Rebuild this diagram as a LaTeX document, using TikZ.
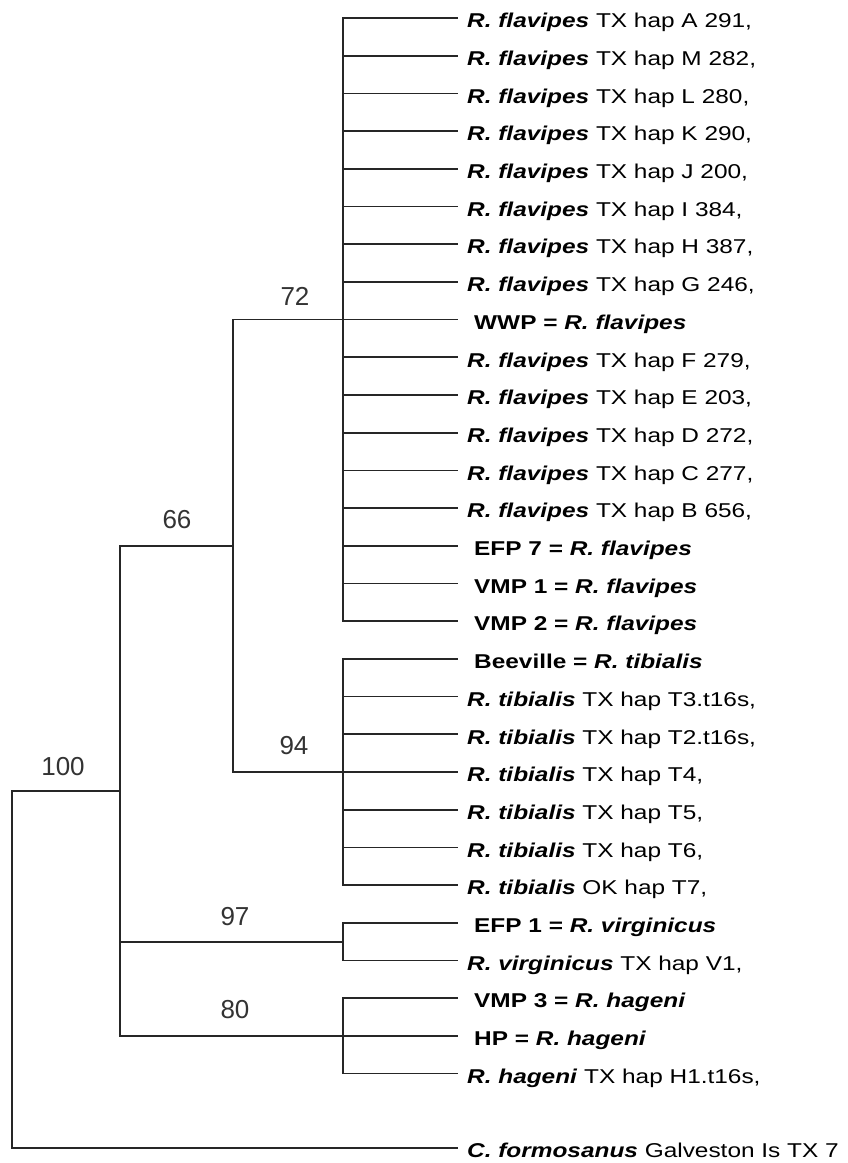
\documentclass[tikz,border=0pt]{standalone}
\usepackage{fontspec}
\setmainfont{Liberation Sans}[FakeStretch=1.22]
\newfontfamily\numfont{Liberation Sans}
\newcommand{\sps}[1]{\textbf{\textit{#1}}}
\begin{document}
\begin{tikzpicture}[x=1pt,y=-1pt,
  br/.style={line width=1.7pt, draw=black!85, line cap=rect},
  lab/.style={anchor=base west, inner sep=0pt, font=\fontsize{20}{24}\selectfont, text=black},
  num/.style={anchor=center, inner sep=0pt, font=\numfont\fontsize{26}{30}\selectfont, text=black!80}]
\useasboundingbox[fill=white] (0,0) rectangle (847,1163);
% leaves
\foreach \i/\y/\xx/\t in {
 0/18/467/{\sps{R. flavipes} TX hap A 291,},
 1/55.7/467/{\sps{R. flavipes} TX hap M 282,},
 2/93.4/467/{\sps{R. flavipes} TX hap L 280,},
 3/131.1/467/{\sps{R. flavipes} TX hap K 290,},
 4/168.8/467/{\sps{R. flavipes} TX hap J 200,},
 5/206.5/467/{\sps{R. flavipes} TX hap I 384,},
 6/244.2/467/{\sps{R. flavipes} TX hap H 387,},
 7/281.9/467/{\sps{R. flavipes} TX hap G 246,},
 8/319.6/474/{\textbf{WWP = \textit{R. flavipes}}},
 9/357.3/467/{\sps{R. flavipes} TX hap F 279,},
 10/395/467/{\sps{R. flavipes} TX hap E 203,},
 11/432.7/467/{\sps{R. flavipes} TX hap D 272,},
 12/470.4/467/{\sps{R. flavipes} TX hap C 277,},
 13/508.1/467/{\sps{R. flavipes} TX hap B 656,},
 14/545.8/474/{\textbf{EFP 7 = \textit{R. flavipes}}},
 15/583.5/474/{\textbf{VMP 1 = \textit{R. flavipes}}},
 16/621.2/474/{\textbf{VMP 2 = \textit{R. flavipes}}},
 17/658.9/474/{\textbf{Beeville = \textit{R. tibialis}}},
 18/696.6/467/{\sps{R. tibialis} TX hap T3.t16s,},
 19/734.3/467/{\sps{R. tibialis} TX hap T2.t16s,},
 20/772/467/{\sps{R. tibialis} TX hap T4,},
 21/809.7/467/{\sps{R. tibialis} TX hap T5,},
 22/847.4/467/{\sps{R. tibialis} TX hap T6,},
 23/885.1/467/{\sps{R. tibialis} OK hap T7,},
 24/922.8/474/{\textbf{EFP 1 = \textit{R. virginicus}}},
 25/960.5/467/{\sps{R. virginicus} TX hap V1,},
 26/998.2/474/{\textbf{VMP 3 = \textit{R. hageni}}},
 27/1035.9/474/{\textbf{HP = \textit{R. hageni}}},
 28/1073.6/467/{\sps{R. hageni} TX hap H1.t16s,}}
{
 \coordinate (s\i) at (343,\y);
 \coordinate (t\i) at (457,\y);
 \node[lab] (L\i) at (\xx,\y+9.7) {\t};
 \draw[br] (s\i) -- (t\i);
}
% outgroup
\coordinate (sF) at (12,1148);
\coordinate (tF) at (457,1148);
\node[lab] (LF) at (467,1157.7) {\sps{C. formosanus} Galveston Is TX 7};
% clade verticals
\draw[br] (s0) -- (s16);
\draw[br] (s17) -- (s23);
\draw[br] (s24) -- (s25);
\draw[br] (s26) -- (s28);
% internal nodes
\coordinate (n72) at (233,319.6);
\coordinate (n94) at (233,772);
\coordinate (m66) at (233,545.8);
\coordinate (n66) at (120,545.8);
\coordinate (m97) at (343,941.65);
\coordinate (n97) at (120,941.65);
\coordinate (n80) at (120,1035.9);
\coordinate (m100) at (120,790.85);
\coordinate (n100) at (12,790.85);
\draw[br] (n72) -- (s8);
\draw[br] (n94) -- (s20);
\draw[br] (n72) -- (n94);
\draw[br] (n66) -- (m66);
\draw[br] (n97) -- (m97);
\draw[br] (n80) -- (s27);
\draw[br] (n66) -- (n80);
\draw[br] (n100) -- (m100);
\draw[br] (n100) -- (sF);
\draw[br] (sF) -- (tF);
% support values
\node[num] (b72) at (295,296) {72};
\node[num] (b66) at (177,520) {66};
\node[num] (b94) at (294,746) {94};
\node[num] (b100) at (63,767) {100};
\node[num] (b97) at (235,917) {97};
\node[num] (b80) at (235,1010) {80};
\end{tikzpicture}
\end{document}
